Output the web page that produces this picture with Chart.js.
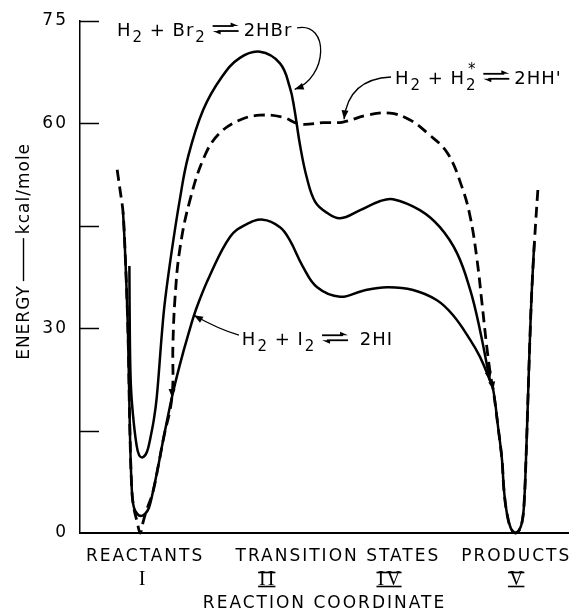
<!DOCTYPE html>
<html>
<head>
<meta charset="utf-8">
<script src="https://cdn.jsdelivr.net/npm/chart.js@4/dist/chart.umd.min.js"></script>
<style>
  html, body { margin: 0; padding: 0; background: #fff; }
</style>
</head>
<body>
<canvas id="myChart" width="569" height="615"></canvas>
<script>
// reaction coordinate (0-100 across the axis) and energy in kcal/mole
var hiX = [8.8, 9.2, 9.8, 10.2, 10.6, 11.0, 11.7, 12.5, 13.3, 14.1, 14.9, 16.0, 17.0, 18.8, 20.4, 22.1, 23.9, 26.6, 30.7, 33.7, 37.4, 40.9, 42.9, 45.6, 48.5, 53.2, 57.9, 62.8, 68.1, 73.0, 76.3, 79.8, 81.8, 83.8, 84.5, 85.5, 86.3, 86.7, 87.3, 88.1, 89.0, 89.8, 90.4, 90.8, 91.2, 91.6, 92.0, 92.4, 92.9];
var hiY = [47.0, 41.5, 29.7, 15.1, 6.3, 3.8, 2.8, 2.5, 2.8, 3.7, 6.0, 9.8, 13.6, 19.9, 24.6, 29.0, 33.1, 37.8, 43.4, 45.1, 45.9, 44.8, 42.9, 39.0, 36.0, 34.6, 35.5, 36.0, 35.6, 34.1, 31.9, 28.3, 25.8, 22.4, 21.0, 15.5, 10.7, 6.3, 2.9, 0.7, 0, 0.4, 1.6, 4.1, 10.7, 19.5, 28.3, 35.6, 42.5];

var hbrX = [10.1, 10.2, 10.4, 10.8, 11.5, 12.1, 12.9, 13.7, 14.3, 15.1, 15.7, 16.8, 17.4, 18.8, 20.4, 22.1, 25.2, 29.0, 32.7, 36.8, 40.9, 42.9, 43.8, 45.0, 46.4, 48.1, 50.5, 53.2, 57.3, 61.3, 64.0, 69.5, 73.6, 77.1, 79.8, 81.8, 83.8];
var hbrY = [39.1, 28.3, 21.7, 17.6, 13.2, 11.4, 11.1, 11.9, 13.6, 16.6, 19.9, 29.7, 34.1, 41.5, 48.8, 55.1, 62.0, 66.8, 69.6, 70.5, 68.8, 65.3, 62.3, 56.8, 52.0, 48.5, 46.9, 46.1, 47.3, 48.6, 48.9, 47.3, 44.8, 41.0, 35.6, 29.7, 22.4];

var hhX = [7.6, 8.2, 8.8, 9.2, 9.8, 10.2, 10.6, 11.0, 11.7, 12.3, 12.9, 13.5, 14.9, 16.0, 17.0, 18.8, 19.0, 19.4, 20.4, 22.5, 25.6, 28.6, 32.7, 36.8, 41.5, 45.0, 49.7, 53.8, 58.7, 63.4, 67.5, 71.0, 75.1, 78.1, 79.8, 81.2, 82.2, 83.2, 84.0, 84.5, 85.5, 86.3, 86.7, 87.3, 88.1, 89.0, 89.8, 90.4, 90.8, 91.2, 91.6, 92.0, 92.4, 93.0, 93.7];
var hhY = [53.2, 50.2, 47.0, 41.5, 29.7, 15.1, 6.3, 3.7, 1.6, 0, 1.6, 3.1, 6.0, 9.8, 13.6, 19.9, 27.5, 34.1, 41.5, 48.8, 55.4, 58.6, 60.5, 61.2, 60.9, 59.9, 60.1, 60.2, 61.2, 61.5, 60.5, 58.6, 55.7, 50.7, 46.3, 40.0, 33.7, 27.2, 22.9, 21.0, 15.5, 10.7, 6.3, 2.9, 0.7, 0, 0.4, 1.6, 4.1, 10.7, 19.5, 28.3, 35.6, 43.4, 51.0];

var stagePos = [12.9, 38.4, 63.4, 89.4];
var stageNumerals = ['I', 'II', 'IV', 'V'];
var stageNames = ['REACTANTS', 'TRANSITION STATES', 'PRODUCTS'];
var yTickLabels = [0, 30, 60, 75];

function pts(xs, ys) {
    return xs.map(function (x, i) { return {x: x, y: ys[i]}; });
}

var serif = '"Liberation Serif", serif';
var sans = '"DejaVu Sans", sans-serif';

function drawEq(ctx, x, y) {
    var w = 26;
    ctx.lineWidth = 1.8;
    ctx.beginPath(); ctx.moveTo(x, y - 10); ctx.lineTo(x + w - 5, y - 10); ctx.stroke();
    ctx.beginPath(); ctx.moveTo(x + w, y - 10); ctx.lineTo(x + w - 8, y - 13.5); ctx.lineTo(x + w - 8, y - 10); ctx.closePath(); ctx.fill();
    ctx.beginPath(); ctx.moveTo(x + 5, y - 5); ctx.lineTo(x + w, y - 5); ctx.stroke();
    ctx.beginPath(); ctx.moveTo(x, y - 5); ctx.lineTo(x + 8, y - 1.5); ctx.lineTo(x + 8, y - 5); ctx.closePath(); ctx.fill();
    return w + 5;
}

// parts: plain strings, '=' for the equilibrium arrows, {sub:..., sup:...}
function drawChem(ctx, x, y, parts) {
    ctx.textAlign = 'left';
    ctx.textBaseline = 'alphabetic';
    ctx.letterSpacing = '1px';
    parts.forEach(function (p) {
        if (p === '=') { x += drawEq(ctx, x, y); return; }
        if (typeof p === 'string') {
            ctx.font = '18px ' + sans;
            ctx.fillText(p, x, y);
            x += ctx.measureText(p).width;
            return;
        }
        ctx.font = '15px ' + sans;
        var w = 0;
        if (p.sub) { ctx.fillText(p.sub, x + 1, y + 6); w = ctx.measureText(p.sub).width + 1; }
        if (p.sup) { ctx.fillText(p.sup, x + 3, y - 10); w = Math.max(w, ctx.measureText(p.sup).width + 3); }
        x += w;
    });
}

function arrowHead(ctx, tip, from, len, half) {
    var a = Math.atan2(tip[1] - from[1], tip[0] - from[0]);
    ctx.beginPath();
    ctx.moveTo(tip[0], tip[1]);
    ctx.lineTo(tip[0] - len * Math.cos(a) + half * Math.sin(a), tip[1] - len * Math.sin(a) - half * Math.cos(a));
    ctx.lineTo(tip[0] - len * Math.cos(a) - half * Math.sin(a), tip[1] - len * Math.sin(a) + half * Math.cos(a));
    ctx.closePath();
    ctx.fill();
}

function curveArrow(ctx, p) {
    ctx.lineWidth = 1.3;
    ctx.beginPath();
    ctx.moveTo(p[0][0], p[0][1]);
    ctx.bezierCurveTo(p[1][0], p[1][1], p[2][0], p[2][1], p[3][0], p[3][1]);
    ctx.stroke();
    arrowHead(ctx, p[3], p[2], 9, 3.5);
}

var figurePlugin = {
    id: 'figure',
    beforeDraw: function (chart) {
        chart.ctx.letterSpacing = '2px';
    },
    afterDraw: function (chart) {
        var ctx = chart.ctx;
        var xs = chart.scales.x, ys = chart.scales.y;
        var area = chart.chartArea;
        var P = function (u, v) { return [xs.getPixelForValue(u), ys.getPixelForValue(v)]; };
        ctx.save();
        ctx.strokeStyle = '#000';
        ctx.fillStyle = '#000';

        // tick marks pointing into the plot
        ctx.lineWidth = 1.5;
        ys.ticks.forEach(function (t) {
            if (t.value === 0) return;
            var y = Math.round(ys.getPixelForValue(t.value)) + 0.5;
            ctx.beginPath(); ctx.moveTo(area.left, y); ctx.lineTo(area.left + 19, y); ctx.stroke();
        });

        // arrowheads where curves run into the HI curve
        var metaBr = chart.getDatasetMeta(1).data, metaHH = chart.getDatasetMeta(2).data;
        var xy = function (el) { return [el.x, el.y]; };
        arrowHead(ctx, xy(metaBr[36]), xy(metaBr[35]), 8, 3.5);
        arrowHead(ctx, xy(metaHH[15]), xy(metaHH[16]), 8, 3.5);
        arrowHead(ctx, xy(metaHH[39]), xy(metaHH[38]), 8, 3.5);

        // bars on the roman numerals
        ctx.font = '20px ' + serif;
        ctx.letterSpacing = '2px';
        ctx.lineWidth = 1.6;
        stageNumerals.forEach(function (n, i) {
            if (n === 'I') return;
            var cx = xs.getPixelForValue(stagePos[i]) - 1;
            var w = ctx.measureText(n).width - 2;
            [area.bottom + 39.5, area.bottom + 53.5].forEach(function (y) {
                ctx.beginPath(); ctx.moveTo(cx - w / 2 - 1, y); ctx.lineTo(cx + w / 2 + 1, y); ctx.stroke();
            });
        });

        // stage names
        ctx.font = '17px ' + sans;
        ctx.textAlign = 'center';
        ctx.textBaseline = 'alphabetic';
        var sx = stagePos.map(function (v) { return xs.getPixelForValue(v); });
        var nameX = [sx[0] + 2, (sx[1] + sx[2]) / 2 + 9, sx[3] - 1];
        stageNames.forEach(function (n, i) { ctx.fillText(n, nameX[i], area.bottom + 28); });

        // vertical axis title
        ctx.save();
        ctx.translate(25, area.top + (area.bottom - area.top) * 0.45);
        ctx.rotate(-Math.PI / 2);
        ctx.font = '17px ' + sans;
        ctx.letterSpacing = '1px';
        ctx.textAlign = 'left';
        ctx.textBaseline = 'middle';
        var a = 'ENERGY', b = 'kcal/mole', dash = 43, gap = 4;
        var wa = ctx.measureText(a).width, wb = ctx.measureText(b).width;
        var x0 = -(wa + gap + dash + gap + wb) / 2;
        ctx.fillText(a, x0, 0);
        ctx.lineWidth = 1.4;
        ctx.beginPath(); ctx.moveTo(x0 + wa + gap, -1.5); ctx.lineTo(x0 + wa + gap + dash, -1.5); ctx.stroke();
        ctx.fillText(b, x0 + wa + 2 * gap + dash, 0);
        ctx.restore();

        // reaction labels
        var p;
        p = P(7.57, 72.8);
        drawChem(ctx, p[0], p[1], ['H', {sub: '2'}, ' + Br', {sub: '2'}, ' ', '=', '2HBr']);
        curveArrow(ctx, [P(44.4, 74.0), P(51.1, 74.9), P(50.7, 66.7), P(43.9, 65.0)]);

        p = P(64.4, 65.8);
        drawChem(ctx, p[0], p[1], ['H', {sub: '2'}, ' + H', {sub: '2', sup: '*'}, ' ', '=', '2HH\'']);
        curveArrow(ctx, [P(63.6, 66.8), P(57.7, 66.6), P(54.6, 64.6), P(54.0, 60.6)]);

        p = P(33.1, 27.5);
        drawChem(ctx, p[0], p[1], ['H', {sub: '2'}, ' + I', {sub: '2'}, ' ', '=', ' 2HI']);
        curveArrow(ctx, [P(32.5, 29.0), P(29.0, 29.7), P(26.0, 30.8), P(23.3, 31.9)]);

        ctx.restore();
        ctx.letterSpacing = '0px';
    }
};

var lineStyle = {
    borderColor: '#000',
    borderWidth: 2.5,
    pointRadius: 0,
    tension: 0.4,
    fill: false,
    clip: false
};

var ctx = document.getElementById('myChart').getContext('2d');
var myChart = new Chart(ctx, {
    type: 'line',
    data: {
        datasets: [
            Object.assign({label: 'H2 + I2 = 2HI', data: pts(hiX, hiY)}, lineStyle),
            Object.assign({label: 'H2 + Br2 = 2HBr', data: pts(hbrX, hbrY)}, lineStyle),
            Object.assign({label: 'H2 + H2* = 2HH\'', data: pts(hhX, hhY)}, lineStyle, {borderWidth: 2.8, borderDash: [11, 6]})
        ]
    },
    options: {
        responsive: false,
        animation: false,
        layout: {padding: {top: 21, right: 0, bottom: 0, left: 0}},
        plugins: {
            legend: {display: false},
            tooltip: {enabled: false}
        },
        scales: {
            x: {
                type: 'linear',
                min: 0,
                max: 100,
                grid: {display: false, drawTicks: false},
                border: {color: '#000', width: 2},
                afterBuildTicks: function (scale) {
                    scale.ticks = stagePos.map(function (v) { return {value: v}; });
                },
                afterFit: function (scale) { scale.height = 82; },
                ticks: {
                    callback: function (value, index) { return stageNumerals[index]; },
                    font: {family: serif, size: 20, lineHeight: 1},
                    color: '#000',
                    padding: 37,
                    maxRotation: 0,
                    autoSkip: false
                },
                title: {
                    display: true,
                    text: 'REACTION COORDINATE',
                    color: '#000',
                    font: {family: sans, size: 17, lineHeight: 1},
                    padding: {top: 0, bottom: 3}
                }
            },
            y: {
                min: 0,
                max: 75,
                grid: {display: false, drawTicks: false},
                border: {color: '#000', width: 1.5},
                afterFit: function (scale) { scale.width = 80; },
                ticks: {
                    stepSize: 15,
                    callback: function (value) { return yTickLabels.indexOf(value) >= 0 ? value : ''; },
                    font: {family: sans, size: 17, lineHeight: 1},
                    color: '#000',
                    padding: 12
                }
            }
        }
    },
    plugins: [figurePlugin]
});
</script>
</body>
</html>
